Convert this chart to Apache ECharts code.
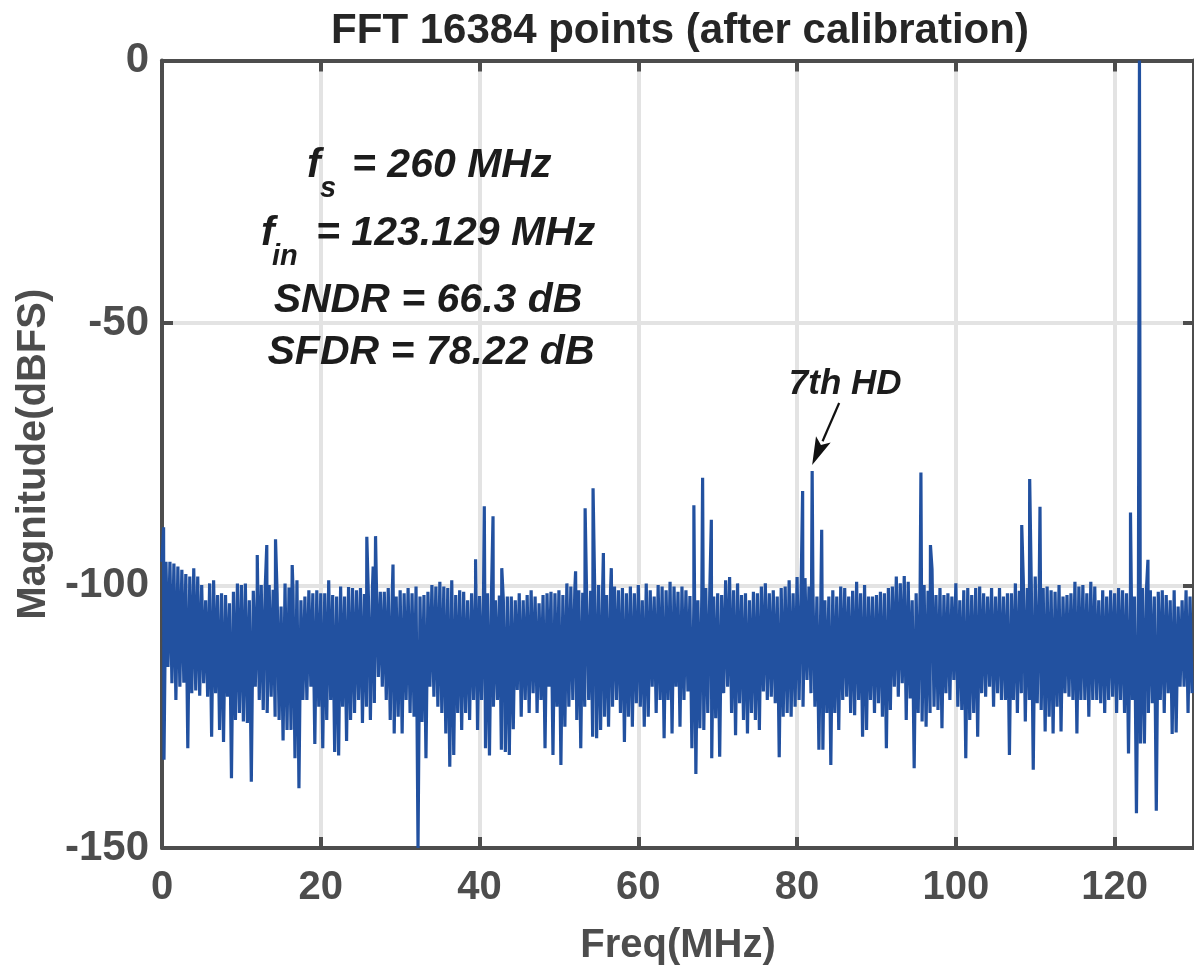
<!DOCTYPE html>
<html><head><meta charset="utf-8">
<script src="https://cdn.jsdelivr.net/npm/echarts@6/dist/echarts.min.js"></script>
<style>html,body{margin:0;padding:0;background:#fff}#c{width:1194px;height:975px}</style>
</head><body><div id="c"></div>
<script>
const FONT = "'Liberation Sans', Arial, Helvetica, sans-serif";
const chartTitle = 'FFT 16384 points (after calibration)';
const xAxisName = 'Freq(MHz)';
const yAxisName = 'Magnitude(dBFS)';
const xTicks = [0, 20, 40, 60, 80, 100, 120];
const yTicks = [0, -50, -100, -150];
const noiseStepMHz = 0.25;
// noise floor samples (dBFS), every 0.25 MHz from 0 MHz, alternating crest / trough
const noiseDb = [
-95.5,-133.2,-95.5,-115.5,-95.5,-118.6,-95.8,-121.8,-96.4,-119.3,-97.0,-118.5,-97.8,-131.0,-98.3,-120.5,-96.7,-120.0,-98.3,-121.0,
-99.9,-118.6,-102.8,-121.2,-99.6,-128.8,-99.0,-120.5,-101.8,-127.5,-101.5,-129.8,-101.8,-121.2,-103.4,-136.7,-101.2,-125.6,-99.6,-124.3,
-99.9,-125.9,-99.6,-126.2,-102.8,-137.4,-101.0,-119.3,-100.2,-121.8,-99.9,-123.7,-100.5,-124.3,-99.9,-121.2,-100.8,-125.0,-101.5,-125.6,
-104.0,-129.5,-99.6,-127.5,-100.4,-127.5,-100.5,-132.9,-99.0,-138.6,-102.8,-121.8,-102.1,-121.8,-100.9,-119.3,-101.5,-130.2,-100.9,-123.1,
-101.5,-131.0,-101.5,-125.6,-99.0,-121.8,-101.8,-131.7,-102.1,-132.4,-100.2,-123.1,-102.1,-129.6,-100.3,-125.6,-100.5,-124.3,-100.9,-121.8,
-100.5,-126.2,-101.6,-123.1,-102.1,-125.6,-101.0,-122.4,-99.3,-117.4,-101.2,-119.3,-101.2,-121.8,-100.5,-125.6,-101.9,-128.2,-102.1,-125.0,
-100.9,-128.2,-101.5,-121.8,-100.5,-124.3,-101.5,-125.0,-100.2,-150.0,-102.1,-126.0,-101.8,-132.9,-101.2,-119.3,-99.9,-121.2,-100.2,-123.1,
-99.3,-124.3,-100.2,-128.2,-100.5,-134.5,-99.0,-132.3,-101.8,-124.3,-100.9,-127.5,-101.2,-124.3,-102.8,-125.6,-101.5,-121.8,-99.9,-127.5,
-102.0,-121.8,-102.1,-131.0,-101.5,-132.4,-101.8,-123.1,-102.8,-121.8,-101.9,-131.3,-102.8,-131.7,-102.1,-132.3,-102.1,-127.4,-102.8,-119.9,
-101.5,-125.0,-102.8,-121.8,-101.8,-124.3,-100.9,-120.5,-102.1,-124.3,-103.4,-121.8,-101.8,-131.0,-101.5,-119.3,-101.2,-132.3,-101.5,-123.1,
-100.9,-134.2,-101.8,-126.9,-99.6,-123.1,-100.2,-121.8,-100.8,-125.6,-100.9,-131.0,-101.4,-123.1,-102.8,-121.8,-101.0,-128.8,-99.9,-129.1,
-99.9,-127.5,-101.2,-125.0,-101.8,-126.9,-101.0,-123.1,-100.2,-121.8,-100.9,-124.3,-100.5,-129.8,-101.5,-125.0,-100.2,-126.9,-101.5,-122.4,
-99.9,-123.1,-102.8,-126.9,-99.6,-125.0,-100.9,-119.3,-102.1,-124.3,-99.9,-121.8,-100.2,-129.1,-100.9,-121.8,-99.3,-128.2,-100.2,-119.3,
-101.2,-126.9,-100.2,-121.8,-100.9,-120.2,-102.0,-131.0,-103.1,-135.9,-102.8,-127.2,-101.8,-127.5,-100.5,-124.3,-101.5,-132.9,-102.1,-125.3,
-101.5,-132.6,-101.8,-120.5,-99.0,-119.3,-98.4,-124.3,-100.9,-128.5,-99.6,-122.4,-101.8,-125.6,-101.5,-128.2,-102.8,-124.3,-101.2,-125.6,
-101.5,-127.5,-100.2,-120.2,-99.6,-121.8,-101.5,-121.2,-100.9,-122.4,-102.1,-132.7,-100.5,-125.0,-100.2,-124.3,-99.0,-125.0,-101.5,-123.1,
-98.4,-121.8,-101.0,-123.1,-98.6,-118.0,-100.2,-120.5,-101.4,-123.1,-102.1,-131.3,-101.8,-131.3,-102.8,-124.3,-102.1,-134.2,-100.9,-124.3,
-102.1,-127.5,-100.2,-121.8,-100.5,-121.2,-102.1,-124.3,-101.0,-124.7,-99.3,-121.8,-101.5,-128.8,-99.9,-127.5,-102.1,-121.8,-102.1,-124.3,
-101.8,-122.4,-101.2,-125.0,-101.5,-131.0,-100.5,-123.7,-100.2,-119.3,-98.3,-121.2,-99.6,-118.6,-98.2,-125.6,-99.3,-121.5,-102.8,-134.8,
-101.5,-124.3,-101.0,-125.9,-99.9,-126.9,-101.0,-124.3,-96.9,-123.1,-101.8,-123.7,-100.5,-127.2,-101.8,-120.5,-101.5,-121.8,-102.1,-118.0,
-99.6,-123.1,-102.8,-123.7,-100.9,-132.9,-100.5,-125.6,-101.8,-124.3,-100.5,-128.8,-100.2,-120.5,-101.5,-121.2,-102.1,-119.3,-100.5,-123.1,
-102.1,-120.5,-100.5,-121.8,-102.1,-121.8,-101.5,-132.3,-101.5,-121.8,-99.6,-124.3,-101.0,-120.5,-99.0,-125.9,-100.5,-121.8,-99.3,-135.1,
-98.3,-122.4,-100.5,-123.7,-100.5,-127.8,-100.2,-125.0,-100.9,-128.2,-101.2,-123.1,-99.9,-127.8,-102.1,-120.5,-101.8,-121.2,-101.5,-121.8,
-99.3,-128.2,-100.2,-121.8,-99.9,-121.8,-101.5,-125.0,-99.3,-121.8,-100.2,-121.8,-102.8,-122.4,-100.9,-124.3,-102.1,-121.8,-100.9,-121.2,
-101.5,-124.3,-100.5,-121.8,-100.9,-124.3,-101.5,-132.0,-99.9,-121.8,-102.1,-143.4,-101.0,-130.1,-100.5,-130.1,-101.0,-124.3,-100.9,-122.4,
-102.1,-142.9,-101.2,-121.8,-100.9,-124.3,-101.8,-120.5,-102.8,-128.3,-100.9,-128.0,-104.0,-119.3,-102.8,-119.3,-100.9,-124.3,-102.1,-120.5
];
// spurs, harmonics and the input tone
const spurFreq = [0.2, 12.0, 13.2, 14.3, 16.4, 25.8, 26.6, 26.9, 29.1, 39.5, 40.6, 41.7, 42.8, 52.1, 53.3, 54.3, 55.6, 56.6, 67.0, 68.1, 69.2, 80.7, 81.9, 83.1, 95.6, 96.8, 108.3, 109.3, 110.6, 122.0, 123.129, 124.2];
const spurDb   = [-88.9, -94.2, -92.3, -91.2, -96.1, -90.7, -96.4, -90.6, -96.0, -95.0, -84.9, -86.8, -96.7, -97.3, -85.3, -81.5, -93.8, -96.7, -84.7, -79.5, -87.5, -82.0, -78.2, -89.4, -78.5, -92.3, -88.5, -79.7, -85.0, -86.1, 0, -95.1];
const hd7Label = '7th HD';
const hd7Index = 22;
const infoLines = ['= 260 MHz', '= 123.129 MHz', 'SNDR = 66.3 dB', 'SFDR = 78.22 dB'];

const points = noiseDb.map((v, i) => [i * noiseStepMHz, v])
  .concat(spurFreq.map((f, i) => [f, spurDb[i]]))
  .sort((a, b) => a[0] - b[0]);

const AX = '#4d4d4d', GRID = '#e3e3e3', TXT = '#1c1c1c';
const chart = echarts.init(document.getElementById('c'), null, {renderer: 'canvas'});
const lblStyle = {fontFamily: FONT, fontWeight: 'bold', color: AX};
const xBase = {
  type: 'value', min: 0, max: 130, interval: 20,
  axisLine: {show: true, onZero: false, lineStyle: {color: AX, width: 4}},
  axisTick: {show: true, inside: true, length: 11, lineStyle: {color: AX, width: 4}}
};
const yBase = {
  type: 'value', min: -150, max: 0, interval: 50,
  axisLine: {show: true, onZero: false, lineStyle: {color: AX, width: 4}},
  axisTick: {show: true, inside: true, length: 11, lineStyle: {color: AX, width: 4}}
};
chart.setOption({
  animation: false,
  backgroundColor: '#fff',
  grid: {left: 162, top: 60.5, width: 1034, height: 787.5, containLabel: false},
  xAxis: [
    Object.assign({}, xBase, {
      position: 'bottom',
      name: xAxisName, nameLocation: 'middle', nameGap: 78,
      nameTextStyle: Object.assign({fontSize: 40}, lblStyle),
      axisLabel: Object.assign({fontSize: 40, margin: 20, showMaxLabel: false,
        formatter: v => xTicks.indexOf(v) >= 0 ? String(v) : ''}, lblStyle),
      splitLine: {show: true, lineStyle: {color: GRID, width: 4}}
    }),
    Object.assign({}, xBase, {position: 'top', axisLabel: {show: false}, splitLine: {show: false}})
  ],
  yAxis: [
    Object.assign({}, yBase, {
      position: 'left',
      name: yAxisName, nameLocation: 'middle', nameGap: 106,
      nameTextStyle: Object.assign({fontSize: 40}, lblStyle),
      axisLabel: Object.assign({fontSize: 42, margin: 13,
        formatter: v => yTicks.indexOf(v) >= 0 ? String(v) : ''}, lblStyle),
      splitLine: {show: true, lineStyle: {color: GRID, width: 4}}
    }),
    Object.assign({}, yBase, {position: 'right', axisLabel: {show: false}, splitLine: {show: false}})
  ],
  series: [{
    type: 'line', xAxisIndex: 0, yAxisIndex: 0,
    data: points, showSymbol: false, symbol: 'none', sampling: null,
    clip: true, z: 1, smooth: false,
    lineStyle: {color: '#2251a0', width: 3.2, join: 'bevel'},
    emphasis: {disabled: true}
  }]
});

function txt(text, x, y, size, align, italic, fill) {
  return {type: 'text', z: 100, style: {text: text, x: x, y: y,
    font: (italic ? 'italic ' : '') + 'bold ' + size + 'px ' + FONT,
    fill: fill || TXT, align: align || 'left', verticalAlign: 'middle'}};
}
const tip0 = chart.convertToPixel({xAxisIndex: 0, yAxisIndex: 0}, [spurFreq[hd7Index], spurDb[hd7Index]]);
const tip = [tip0[0], tip0[1] - 6];
const tail = [tip0[0] + 27, tip0[1] - 68];
const dx = tip[0] - tail[0], dy = tip[1] - tail[1], L = Math.hypot(dx, dy);
const ux = dx / L, uy = dy / L, headLen = 28, headHalf = 8;
const base = [tip[0] - ux * headLen, tip[1] - uy * headLen];
const graphics = [
  txt(chartTitle, 680, 31, 42, 'center', false, '#262626'),
  txt('f', 307, 166, 41, 'left', true),
  txt('s', 320, 189, 29, 'left', true),
  txt(infoLines[0], 352, 166, 41, 'left', true),
  txt('f', 261, 234, 41, 'left', true),
  txt('in', 272, 257, 29, 'left', true),
  txt(infoLines[1], 316, 234, 41, 'left', true),
  txt(infoLines[2], 428, 301, 41, 'center', true),
  txt(infoLines[3], 431, 353, 41, 'center', true),
  txt(hd7Label, tip0[0] + 33, tip0[1] - 87, 35, 'center', true),
  {type: 'line', z: 100, shape: {x1: tail[0], y1: tail[1], x2: base[0] + ux * 2, y2: base[1] + uy * 2},
    style: {stroke: '#111', lineWidth: 2.2}},
  {type: 'polygon', z: 100, shape: {points: [tip,
    [base[0] - uy * headHalf, base[1] + ux * headHalf],
    [base[0] + ux * 6, base[1] + uy * 6],
    [base[0] + uy * headHalf, base[1] - ux * headHalf]]},
    style: {fill: '#111'}}
];
chart.setOption({graphic: graphics});
</script>
</body></html>
